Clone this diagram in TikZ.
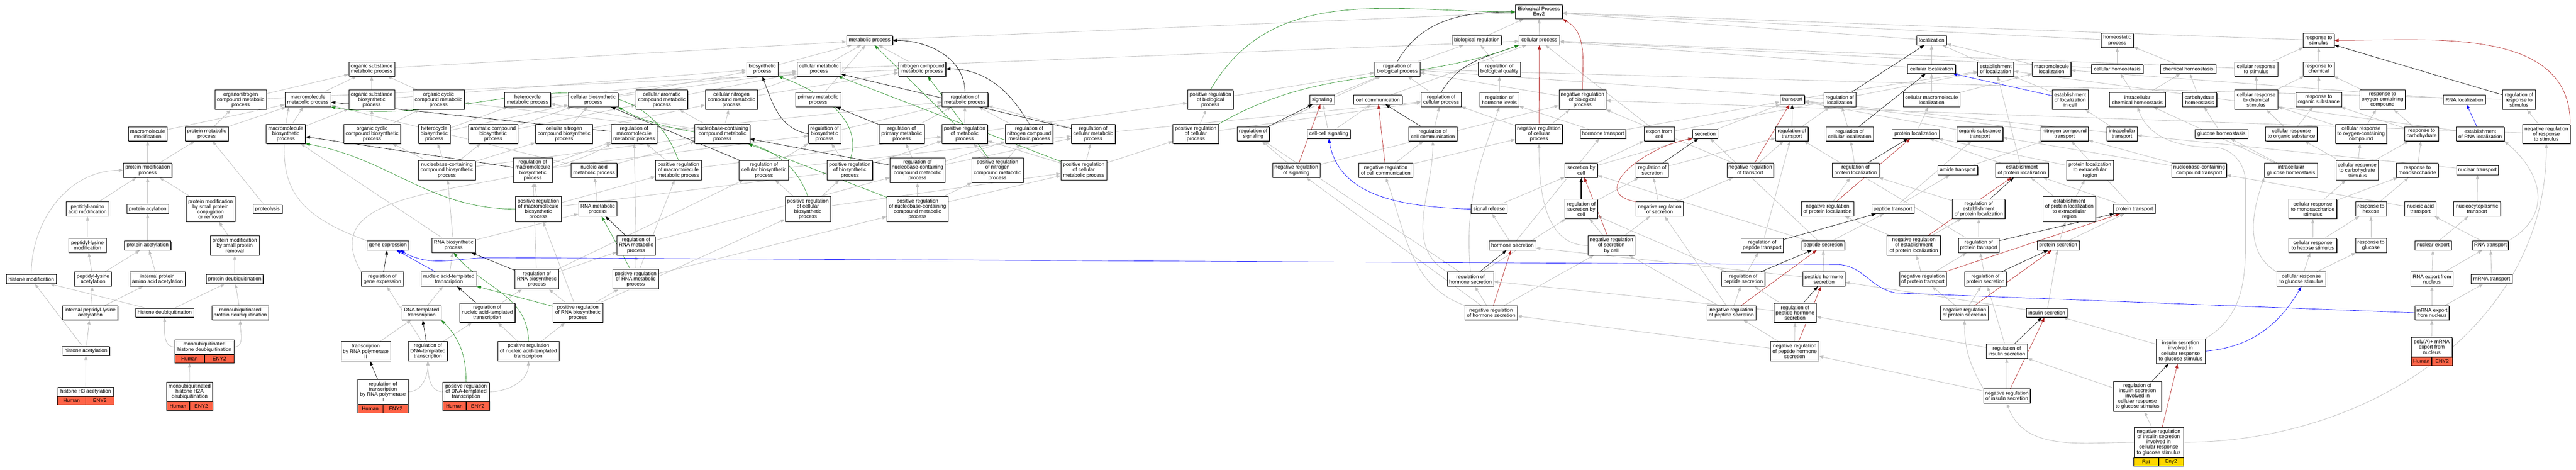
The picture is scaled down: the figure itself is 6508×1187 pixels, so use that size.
\documentclass[tikz,border=0pt]{standalone}
\usepackage{fontspec}
\setmainfont{Liberation Sans}
\usetikzlibrary{arrows.meta,shadows}
\pgfdeclarelayer{bglayer}
\pgfdeclarelayer{edgelayer}
\pgfsetlayers{bglayer,edgelayer,main}
\definecolor{eg}{RGB}{192,192,192}
\definecolor{egreen}{RGB}{34,139,34}
\definecolor{ered}{RGB}{178,34,34}
\definecolor{eblue}{RGB}{0,0,255}
\definecolor{hum}{RGB}{255,99,71}
\definecolor{ratc}{RGB}{255,215,0}
\newcommand\gofont{\fontsize{13}{13.2}\selectfont}
\tikzset{
 box/.style={draw=black,line width=0.9pt,fill=white,inner sep=0pt,align=center,font=\gofont,
   drop shadow={shadow xshift=1.3pt,shadow yshift=-1.3pt,fill=black!70,opacity=1}},
 cell/.style={draw=black,line width=0.9pt,inner sep=0pt,minimum height=21pt,font=\gofont,
   drop shadow={shadow xshift=1.3pt,shadow yshift=-1.3pt,fill=black!70,opacity=1}},
 isa/.style={draw=eg,line width=1.1pt,-{Triangle[length=11pt,width=8pt]}},
 reg/.style={draw=black,line width=0.9pt,-{Triangle[length=11pt,width=8pt]}},
 preg/.style={draw=egreen,line width=0.9pt,-{Triangle[length=11pt,width=8pt]}},
 nreg/.style={draw=ered,line width=0.9pt,-{Triangle[length=11pt,width=8pt]}},
 partof/.style={draw=eblue,line width=0.9pt,-{Triangle[length=11pt,width=8pt]}},
}
\newcommand\nd[6]{\node[box,minimum width=#4pt,minimum height=#5pt] (#1) at (#2,-#3) {#6};}
\newcommand\rnd[9]{%
 \node[box,minimum width=#4pt,minimum height=#5pt] (#1) at (#2,-#3) {#6};
 \node[cell,fill=#9,minimum width=#4pt/2,anchor=north east] (#1-a) at (#1.south) {#7};
 \node[cell,fill=#9,minimum width=#4pt/2,anchor=north west] (#1-b) at (#1.south) {#8};}
\begin{document}
\begin{tikzpicture}[x=1pt,y=1pt]
\useasboundingbox (0,0) rectangle (6508,-1187);
\begin{pgfonlayer}{bglayer}
\fill[white] (0,0) rectangle (6508,-1187);
\end{pgfonlayer}
% ---------------- nodes ----------------
\nd{mmod}{373}{338}{98}{36}{macromolecule\\modification}
\nd{pmet}{522}{338}{109}{36}{protein metabolic\\process}
\nd{pmp}{373}{430}{123}{36}{protein modification\\process}
\nd{paam}{221}{528}{108}{36}{peptidyl-amino\\acid modification}
\nd{pacyl}{373}{528}{106}{23}{protein acylation}
\nd{pmsp}{532}{528}{123}{63}{protein modification\\by small protein\\conjugation\\or removal}
\nd{plm}{221}{620}{94}{36}{peptidyl-lysine\\modification}
\nd{pacet}{373}{620}{117}{23}{protein acetylation}
\nd{pmspr}{593}{620}{124}{49}{protein modification\\by small protein\\removal}
\nd{hmod}{79}{705}{127}{23}{histone modification}
\nd{pla}{235}{705}{93}{36}{peptidyl-lysine\\acetylation}
\nd{ipaaa}{398}{705}{140}{36}{internal protein\\amino acid acetylation}
\nd{pdub}{593}{705}{143}{23}{protein deubiquitination}
\nd{ipla}{228}{790}{139}{36}{internal peptidyl-lysine\\acetylation}
\nd{hdub}{416}{790}{147}{23}{histone deubiquitination}
\nd{mpdub}{607}{790}{143}{36}{monoubiquitinated\\protein deubiquitination}
\nd{hacet}{217}{886}{120}{23}{histone acetylation}
\rnd{mhdub}{516.5}{876.5}{149}{37}{monoubiquitinated\\histone deubiquitination}{Human}{ENY2}{hum}
\rnd{h3ac}{216.5}{989}{141}{22}{histone H3 acetylation}{Human}{ENY2}{hum}
\rnd{h2a}{479}{989.5}{116}{49}{monoubiquitinated\\histone H2A\\deubiquitination}{Human}{ENY2}{hum}
\nd{osmp}{939}{174}{116}{36}{organic substance\\metabolic process}
\nd{oncmp}{608}{252}{130}{49}{organonitrogen\\compound metabolic\\process}
\nd{mmp}{778}{252}{116}{36}{macromolecule\\metabolic process}
\nd{osbp}{939}{252}{116}{49}{organic substance\\biosynthetic\\process}
\nd{occmp}{1108}{252}{131}{49}{organic cyclic\\compound metabolic\\process}
\nd{mbp}{722}{338}{99}{49}{macromolecule\\biosynthetic\\process}
\nd{occbp}{940}{338}{144}{49}{organic cyclic\\compound biosynthetic\\process}
\nd{hbp}{1097}{338}{80}{49}{heterocycle\\biosynthetic\\process}
\nd{ncbp}{1129}{430}{144}{49}{nucleobase-containing\\compound biosynthetic\\process}
\nd{prot}{676}{528}{74}{23}{proteolysis}
\nd{gexp}{980}{620}{105}{23}{gene expression}
\nd{rnabp}{1146}{620}{110}{36}{RNA biosynthetic\\process}
\nd{rgexp}{966}{705}{106}{36}{regulation of\\gene expression}
\nd{nat}{1134}{705}{140}{36}{nucleic acid-templated\\transcription}
\nd{dtt}{1065}{790}{99}{36}{DNA-templated\\transcription}
\nd{trpol}{924}{887}{125}{49}{transcription\\by RNA polymerase\\II}
\nd{rdtt}{1081}{887}{99}{49}{regulation of\\DNA-templated\\transcription}
\rnd{rtpol}{967.5}{989.5}{127}{63}{regulation of\\transcription\\by RNA polymerase\\II}{Human}{ENY2}{hum}
\nd{hmp}{1333}{252}{116}{36}{heterocycle\\metabolic process}
\nd{cbp}{1499}{252}{125}{36}{cellular biosynthetic\\process}
\nd{camp}{1672}{252}{130}{49}{cellular aromatic\\compound metabolic\\process}
\nd{acbp}{1246}{338}{124}{49}{aromatic compound\\biosynthetic\\process}
\nd{cncbp}{1425}{338}{144}{49}{cellular nitrogen\\compound biosynthetic\\process}
\nd{rmmp}{1602}{338}{116}{49}{regulation of\\macromolecule\\metabolic process}
\nd{rmbp}{1346}{430}{99}{62}{regulation of\\macromolecule\\biosynthetic\\process}
\nd{namp}{1501}{430}{116}{36}{nucleic acid\\metabolic process}
\nd{prmbp}{1360}{528}{116}{63}{positive regulation\\of macromolecule\\biosynthetic\\process}
\nd{rnamp}{1510}{528}{97}{36}{RNA metabolic\\process}
\nd{rrnamp}{1607}{620}{96}{49}{regulation of\\RNA metabolic\\process}
\nd{rrnabp}{1356}{705}{111}{49}{regulation of\\RNA biosynthetic\\process}
\nd{prrnamp}{1606}{705}{115}{49}{positive regulation\\of RNA metabolic\\process}
\nd{rnat}{1231}{790}{140}{49}{regulation of\\nucleic acid-templated\\transcription}
\nd{prrnabp}{1460}{790}{126}{49}{positive regulation\\of RNA biosynthetic\\process}
\nd{prnat}{1335}{887}{155}{49}{positive regulation\\of nucleic acid-templated\\transcription}
\rnd{prdtt}{1177.5}{989.5}{117}{49}{positive regulation\\of DNA-templated\\transcription}{Human}{ENY2}{hum}
\nd{mp}{2197}{102}{116}{23}{metabolic process}
\nd{bp}{1926}{174}{80}{36}{biosynthetic\\process}
\nd{cmp}{2069}{174}{111}{36}{cellular metabolic\\process}
\nd{cncmp}{1848}{252}{132}{49}{cellular nitrogen\\compound metabolic\\process}
\nd{prim}{2067}{252}{114}{36}{primary metabolic\\process}
\nd{ncmp}{1825}{338}{139}{49}{nucleobase-containing\\compound metabolic\\process}
\nd{rbp}{2083}{338}{82}{49}{regulation of\\biosynthetic\\process}
\nd{prmmp}{1714}{430}{116}{49}{positive regulation\\of macromolecule\\metabolic process}
\nd{rcbp}{1930}{430}{125}{49}{regulation of\\cellular biosynthetic\\process}
\nd{prbp}{2147}{430}{115}{49}{positive regulation\\of biosynthetic\\process}
\nd{prcbp}{2041}{528}{115}{63}{positive regulation\\of cellular\\biosynthetic\\process}
\nd{nitmp}{2330}{174}{119}{36}{nitrogen compound\\metabolic process}
\nd{rmp}{2438}{252}{116}{36}{regulation of\\metabolic process}
\nd{rpmp}{2278}{338}{114}{49}{regulation of\\primary metabolic\\process}
\nd{prmp}{2437}{338}{115}{49}{positive regulation\\of metabolic\\process}
\nd{rnitmp}{2600}{338}{120}{49}{regulation of\\nitrogen compound\\metabolic process}
\nd{rcmp}{2762}{338}{111}{49}{regulation of\\cellular metabolic\\process}
\nd{rncmp}{2318}{430}{139}{62}{regulation of\\nucleobase-containing\\compound metabolic\\process}
\nd{prnitmp}{2520}{430}{130}{62}{positive regulation\\of nitrogen\\compound metabolic\\process}
\nd{prcmp}{2738}{430}{116}{49}{positive regulation\\of cellular\\metabolic process}
\nd{prncmp}{2318}{528}{155}{63}{positive regulation\\of nucleobase-containing\\compound metabolic\\process}
\nd{prbiop}{3058}{252}{115}{49}{positive regulation\\of biological\\process}
\nd{prcp}{3021}{338}{115}{49}{positive regulation\\of cellular\\process}
\nd{rsig}{3166}{338}{81}{36}{regulation of\\signaling}
\nd{nrsig}{3275}{430}{119}{36}{negative regulation\\of signaling}
\nd{breg}{3731}{102}{125}{23}{biological regulation}
\nd{rbiop}{3530}{174}{115}{36}{regulation of\\biological process}
\nd{rbq}{3788}{174}{106}{36}{regulation of\\biological quality}
\nd{sig}{3340}{252}{62}{23}{signaling}
\nd{ccom}{3481}{252}{123}{23}{cell communication}
\nd{rcp}{3641}{252}{101}{36}{regulation of\\cellular process}
\nd{rhl}{3788}{252}{99}{36}{regulation of\\hormone levels}
\nd{ccsig}{3357}{338}{110}{23}{cell-cell signaling}
\nd{rccom}{3620}{338}{123}{36}{regulation of\\cell communication}
\nd{nrccom}{3501}{430}{137}{36}{negative regulation\\of cell communication}
\nd{sigrel}{3762}{528}{91}{23}{signal release}
\nd{hsec}{3821}{620}{118}{23}{hormone secretion}
\nd{rhsec}{3715}{705}{117}{36}{regulation of\\hormone secretion}
\nd{nrhsec}{3767}{790}{132}{36}{negative regulation\\of hormone secretion}
\nd{root}{3888}{30}{119}{35}{Biological Process\\Eny2}
\nd{cp}{3889}{102}{102}{23}{cellular process}
\nd{nrbiop}{3998}{252}{119}{49}{negative regulation\\of biological\\process}
\nd{nrcp}{3888}{338}{119}{49}{negative regulation\\of cellular\\process}
\nd{htr}{4050}{338}{115}{23}{hormone transport}
\nd{efc}{4192}{338}{77}{36}{export from\\cell}
\nd{sec}{4308}{338}{63}{23}{secretion}
\nd{sbc}{3995}{430}{82}{36}{secretion by\\cell}
\nd{rsec}{4174}{430}{82}{36}{regulation of\\secretion}
\nd{rsbc}{3995}{528}{82}{49}{regulation of\\secretion by\\cell}
\nd{nrsec}{4193}{528}{119}{36}{negative regulation\\of secretion}
\nd{nrsbc}{4071}{620}{119}{49}{negative regulation\\of secretion\\by cell}
\nd{loc}{4880}{102}{75}{23}{localization}
\nd{cloc}{4880}{174}{121}{23}{cellular localization}
\nd{trans}{4528}{252}{62}{23}{transport}
\nd{rloc}{4648}{252}{81}{36}{regulation of\\localization}
\nd{cmloc}{4880}{252}{143}{36}{cellular macromolecule\\localization}
\nd{rtrans}{4527}{338}{82}{36}{regulation of\\transport}
\nd{rcloc}{4673}{338}{120}{36}{regulation of\\cellular localization}
\nd{ploc}{4840}{338}{119}{23}{protein localization}
\nd{nrtrans}{4422}{430}{118}{36}{negative regulation\\of transport}
\nd{rploc}{4688}{430}{119}{36}{regulation of\\protein localization}
\nd{nrploc}{4617}{528}{133}{36}{negative regulation\\of protein localization}
\nd{ptr}{4782}{528}{107}{23}{peptide transport}
\nd{rptr}{4452}{620}{106}{36}{regulation of\\peptide transport}
\nd{psec}{4606}{620}{109}{23}{peptide secretion}
\nd{nrepl}{4835}{620}{135}{49}{negative regulation\\of establishment\\of protein localization}
\nd{rpsec}{4404}{705}{110}{36}{regulation of\\peptide secretion}
\nd{phsec}{4608}{705}{106}{36}{peptide hormone\\secretion}
\nd{nrptr}{4858}{705}{118}{36}{negative regulation\\of protein transport}
\nd{nrpsec}{4374}{790}{124}{36}{negative regulation\\of peptide secretion}
\nd{rphsec}{4535}{790}{107}{49}{regulation of\\peptide hormone\\secretion}
\nd{nrphsec}{4534}{887}{122}{49}{negative regulation\\of peptide hormone\\secretion}
\nd{homeo}{5349}{102}{81}{36}{homeostatic\\process}
\nd{eloc}{5042}{174}{91}{36}{establishment\\of localization}
\nd{mloc}{5183}{174}{98}{36}{macromolecule\\localization}
\nd{chomeo}{5349}{174}{130}{23}{cellular homeostasis}
\nd{elic}{5230}{252}{91}{49}{establishment\\of localization\\in cell}
\nd{ichomeo}{5400}{252}{141}{36}{intracellular\\chemical homeostasis}
\nd{ostr}{5002}{338}{116}{36}{organic substance\\transport}
\nd{nctr}{5216}{338}{120}{36}{nitrogen compound\\transport}
\nd{itr}{5361}{338}{76}{36}{intracellular\\transport}
\nd{amtr}{4946}{430}{101}{23}{amide transport}
\nd{eploc}{5108}{430}{134}{36}{establishment\\of protein localization}
\nd{plocex}{5280}{430}{119}{49}{protein localization\\to extracellular\\region}
\nd{reploc}{4999}{528}{133}{49}{regulation of\\establishment\\of protein localization}
\nd{eplocex}{5228}{528}{133}{63}{establishment\\of protein localization\\to extracellular\\region}
\nd{ptrans}{5392}{528}{105}{23}{protein transport}
\nd{rptrans}{4999}{620}{103}{36}{regulation of\\protein transport}
\nd{prsec}{5200}{620}{106}{23}{protein secretion}
\nd{rprsec}{5016}{705}{106}{36}{regulation of\\protein secretion}
\nd{nrprsec}{4963}{790}{121}{36}{negative regulation\\of protein secretion}
\nd{insec}{5171}{790}{103}{23}{insulin secretion}
\nd{rinsec}{5070}{887}{104}{36}{regulation of\\insulin secretion}
\nd{nrinsec}{5070}{1000}{118}{36}{negative regulation\\of insulin secretion}
\nd{rinsecg}{5400}{1001}{122}{76}{regulation of\\insulin secretion\\involved in\\cellular response\\to glucose stimulus}
\rnd{nrinsecg}{5453.5}{1117}{125}{76}{negative regulation\\of insulin secretion\\involved in\\cellular response\\to glucose stimulus}{Rat}{Eny2}{ratc}
\nd{rstim}{5858}{102}{78}{36}{response to\\stimulus}
\nd{chemh}{5528}{174}{141}{23}{chemical homeostasis}
\nd{crstim}{5700}{174}{109}{36}{cellular response\\to stimulus}
\nd{rchem}{5858}{174}{78}{36}{response to\\chemical}
\nd{carbh}{5557}{252}{87}{36}{carbohydrate\\homeostasis}
\nd{crchem}{5700}{252}{109}{49}{cellular response\\to chemical\\stimulus}
\nd{ros}{5858}{252}{116}{36}{response to\\organic substance}
\nd{glch}{5612}{338}{134}{23}{glucose homeostasis}
\nd{cros}{5789}{338}{130}{36}{cellular response\\to organic substance}
\nd{croc}{5965}{338}{130}{49}{cellular response\\to oxygen-containing\\compound}
\nd{nctrans}{5556}{430}{138}{36}{nucleobase-containing\\compound transport}
\nd{iglch}{5788}{430}{134}{36}{intracellular\\glucose homeostasis}
\nd{crcarb}{5955}{430}{107}{49}{cellular response\\to carbohydrate\\stimulus}
\nd{crmono}{5843}{528}{121}{49}{cellular response\\to monosaccharide\\stimulus}
\nd{rhex}{5990}{528}{78}{36}{response to\\hexose}
\nd{crhex}{5843}{620}{121}{36}{cellular response\\to hexose stimulus}
\nd{rglu}{5990}{620}{78}{36}{response to\\glucose}
\nd{crglu}{5814}{705}{123}{36}{cellular response\\to glucose stimulus}
\nd{insg}{5509}{887}{124}{63}{insulin secretion\\involved in\\cellular response\\to glucose stimulus}
\nd{roc}{6019}{252}{115}{49}{response to\\oxygen-containing\\compound}
\nd{rnaloc}{6226}{252}{106}{23}{RNA localization}
\nd{rrstim}{6364}{252}{83}{49}{regulation of\\response to\\stimulus}
\nd{rcarb}{6118}{338}{85}{36}{response to\\carbohydrate}
\nd{erloc}{6266}{338}{121}{36}{establishment\\of RNA localization}
\nd{nrrstim}{6433}{338}{120}{49}{negative regulation\\of response\\to stimulus}
\nd{rmono}{6107}{430}{106}{36}{response to\\monosaccharide}
\nd{ntr}{6259}{430}{106}{23}{nuclear transport}
\nd{natr}{6115}{528}{79}{36}{nucleic acid\\transport}
\nd{nctp}{6258}{528}{119}{36}{nucleocytoplasmic\\transport}
\nd{nexp}{6147}{620}{92}{23}{nuclear export}
\nd{rnatr}{6292}{620}{90}{23}{RNA transport}
\nd{rnaexp}{6144}{705}{106}{36}{RNA export from\\nucleus}
\nd{mrnatr}{6295}{705}{104}{23}{mRNA transport}
\nd{mrnaexp}{6144}{790}{87}{36}{mRNA export\\from nucleus}
\rnd{polya}{6143.5}{876.5}{103}{49}{poly(A)+ mRNA\\export from\\nucleus}{Human}{ENY2}{hum}
% waypoints
\coordinate (bw1) at (4790,-740);
\coordinate (bw2) at (4640,-668);
\coordinate (bw3) at (1240,-651);
\coordinate (iw1) at (5673,-620);
\coordinate (iw2) at (5673,-460);
\coordinate (iw3) at (5590,-372);
% ---------------- edges ----------------
\begin{pgfonlayer}{edgelayer}
\foreach \a/\b in {pmp/mmod, pmp/pmet, mmod/mmp, pmet/oncmp, pmet/mmp, prot/pmet,
 paam/pmp, pacyl/pmp, pmsp/pmp, plm/paam, pacet/pacyl, pmspr/pmsp,
 pla/plm, pla/pacet, ipaaa/pacet, pdub/pmspr, ipla/pla, ipla/ipaaa, hdub/hmod, hdub/pdub, mpdub/pdub,
 hacet/hmod, hacet/ipla, h3ac/hacet, h2a/mhdub-a,
 oncmp/osmp, oncmp/nitmp, mmp/osmp, osbp/osmp, osbp/bp, occmp/osmp,
 mbp/mmp, mbp/osbp, occbp/osbp, occbp/occmp, hbp/hmp, hbp/cbp,
 ncbp/hbp, ncbp/acbp, ncbp/cncbp, ncbp/occbp, ncbp/ncmp, acbp/camp, acbp/cbp, cncbp/cbp, cncbp/cncmp,
 dtt/nat, trpol/dtt, rdtt/rnat, rdtt/rgexp,
 hmp/cmp, cbp/cmp, cbp/bp, camp/cmp, cncmp/cmp, cncmp/nitmp,
 ncmp/hmp, ncmp/camp, ncmp/occmp, ncmp/cncmp,
 rmbp/rmmp, rmbp/rbp, prmbp/rmbp, prmbp/prmmp, prmbp/prbp,
 namp/ncmp, namp/mmp, rnamp/namp, rrnamp/rmmp, rrnamp/rncmp,
 rnabp/rnamp, rnabp/ncbp, rnabp/mbp, nat/rnabp,
 rrnabp/rrnamp, rrnabp/rmbp, rrnabp/rcbp, prrnamp/rrnamp, prrnamp/prmmp, prrnamp/prncmp,
 rnat/rrnabp, prrnabp/rrnabp, prrnabp/prrnamp, prrnabp/prmbp, prrnabp/prcbp, prnat/rnat, prnat/prrnabp,
 rmmp/rmp, rbp/rmp, rcbp/rbp, rcbp/rcmp, prmmp/rmmp, prmmp/prmp,
 prbp/rbp, prbp/prmp, prcbp/rcbp, prcbp/prbp, prcbp/prcmp,
 prim/mp, bp/mp, cmp/mp, cmp/cp, nitmp/mp, osmp/mp, mp/root,
 rpmp/rmp, prmp/rmp, prmp/prbiop, rnitmp/rmp, rcmp/rmp, rcmp/rcp,
 rncmp/rpmp, rncmp/rnitmp, rncmp/rcmp, prnitmp/prmp, prnitmp/rnitmp, prcmp/prmp, prcmp/rcmp, prcmp/prcp,
 prncmp/rncmp, prncmp/prnitmp, prncmp/prcmp,
 prbiop/rbiop, prcp/prbiop, prcp/rcp, rsig/rbiop, nrsig/rsig, nrsig/nrbiop,
 sig/rbiop, ccom/cp, rcp/rbiop, rhl/rbq, rbq/breg, rbiop/breg, breg/root, cp/root,
 ccsig/sig, ccsig/ccom, rccom/rcp, nrccom/rccom, nrccom/nrcp,
 sigrel/sbc, hsec/sigrel, hsec/htr, rhsec/rsig, rhsec/rsbc,
 nrhsec/rhsec, nrhsec/nrsig, nrhsec/nrsbc, nrbiop/rbiop, nrcp/nrbiop, nrcp/rcp,
 htr/rhl, htr/trans, efc/cp, efc/eloc, sec/trans, sbc/efc, sbc/sec,
 rsec/rtrans, rsbc/rsec, nrsec/rsec, nrsec/nrtrans, nrsbc/rsbc, nrsbc/nrsec,
 loc/root, cloc/loc, cloc/cp, trans/eloc, rloc/rbiop, cmloc/cloc, cmloc/mloc,
 rtrans/rloc, rcloc/rloc, ploc/cmloc, nrtrans/rtrans, nrtrans/nrbiop, rploc/rcloc, nrploc/rploc,
 ptr/amtr, ptr/ostr, rptr/rtrans, psec/ptr, psec/sbc, psec/sec,
 nrepl/reploc, nrepl/nrploc, rpsec/rptr, rpsec/rsbc, phsec/psec, phsec/hsec,
 nrptr/rptrans, nrptr/nrepl, nrpsec/rpsec, nrpsec/nrsec, nrpsec/nrsbc,
 rphsec/rpsec, rphsec/rhsec, nrphsec/rphsec, nrphsec/nrpsec, nrphsec/nrhsec,
 homeo/root, eloc/loc, mloc/loc, chomeo/homeo, chomeo/cp, elic/eloc,
 ichomeo/chomeo, ichomeo/chemh, ostr/trans, nctr/trans, itr/elic, itr/trans,
 amtr/nctr, eploc/eloc, eploc/ploc, plocex/ploc, reploc/rploc,
 eplocex/eploc, eplocex/plocex, ptrans/eploc, ptrans/nctr,
 rptrans/reploc, rptrans/rtrans, prsec/ptrans, prsec/eplocex,
 rprsec/rptrans, nrprsec/rprsec, nrprsec/nrptr,
 insec/prsec, insec/phsec, rinsec/rprsec, rinsec/rphsec, nrinsec/rinsec, nrinsec/nrphsec,
 rinsecg/rinsec, nrinsecg/rinsecg, insg/insec,
 rstim/root, chemh/homeo, crstim/rstim, crstim/cp, rchem/rstim, carbh/chemh,
 crchem/crstim, crchem/rchem, ros/rchem, glch/carbh, cros/crchem, cros/ros,
 roc/rchem, croc/crchem, croc/roc, rcarb/roc, rcarb/ros,
 crcarb/cros, crcarb/rcarb, crcarb/croc, rmono/rcarb, crmono/crcarb, crmono/rmono,
 rhex/rmono, crhex/crmono, crhex/rhex, rglu/rhex, crglu/crhex, crglu/rglu,
 iglch/glch, iglch/ichomeo, nctrans/nctr, nctrans/ostr, natr/nctrans, ntr/itr, nctp/ntr, nexp/nctp,
 rnatr/natr, rnaexp/nexp, rnaexp/rnatr, mrnatr/rnatr, mrnaexp/rnaexp, mrnaexp/mrnatr, polya/mrnaexp,
 rnaloc/mloc, erloc/eloc, rrstim/rbiop, nrrstim/rrstim, nrrstim/nrbiop}
 \draw[isa] (\a) -- (\b);
% curved is_a
\draw[isa] (hmod.north) to[out=90,in=180] (pmp.west);
\draw[isa] (mhdub.west) to[out=180,in=-90] (hdub.south);
\draw[isa] (mhdub.east) to[out=0,in=-90] (mpdub.south);
\draw[isa] (rtpol.east) to[out=0,in=-90] (rdtt.south);
\draw[isa] (prdtt.west) to[out=180,in=-90] (rdtt.south);
\draw[isa] (prdtt.east) to[out=0,in=-90] (prnat.south);
\draw[isa] (gexp.north west) to[out=160,in=-100,looseness=1.3] ([xshift=10pt]mmp.south west);
\draw[isa] (rgexp.north west) to[out=120,in=-150] (rmmp.south west);
\draw[isa] (rhsec.north) to[out=95,in=-110] (rhl.south);
\draw[isa] (rhsec.north west) to[out=150,in=-90] (rccom.south);
\draw[isa] (nrhsec.north west) to[out=160,in=-70] (nrccom.south);
\draw[isa] (nrsbc.west) to[out=180,in=-90] (nrcp.south);
\draw[isa] (rnatr.north east) to[out=30,in=-40,looseness=1.3] (erloc.south east);
\draw[isa] (crglu.north west) to[out=150,in=-110] (iglch.south west);
\draw[isa] (nrinsecg.east) to[out=0,in=-90] (nrrstim.south);
\draw[isa] (nrinsecg.west) to[out=180,in=-70] (nrinsec.south);
\draw[isa] (nrinsec.north west) to[out=120,in=-90] (nrprsec.south);
\draw[isa] (insg.north east) to[out=30,in=-90] (iw1) -- (iw2) to[out=90,in=0] (iw3) to[out=180,in=-70] (ichomeo.south);
% regulates
\foreach \a/\b in {rgexp/gexp, rdtt/dtt, rtpol/trpol, rmbp/mbp, rrnamp/rnamp, rrnabp/rnabp, rnat/nat,
 rmmp/mmp, rcbp/cbp, rpmp/prim, rcmp/cmp, rncmp/ncmp,
 rsig/sig, rccom/ccom, rhsec/hsec, rsec/sec,
 rloc/loc, rtrans/trans, rcloc/cloc, rploc/ploc, rptr/ptr, reploc/eploc, rpsec/psec,
 rptrans/ptrans, rprsec/prsec, rphsec/phsec, rinsec/insec, rinsecg/insg, rrstim/rstim}
 \draw[reg] (\a) -- (\b);
\draw[reg,line width=2.2pt] (rsbc) -- (sbc);
\draw[reg] (rbp.west) to[out=170,in=-70] (bp.south);
\draw[reg] (rmp.north) to[out=90,in=0] (mp.east);
\draw[reg] (rnitmp.north) to[out=120,in=0] (nitmp.east);
\draw[reg] (rbiop.north) to[out=60,in=180] (root.west);
\draw[reg] (rcp.north) to[out=60,in=-160] (cp.south west);
% positively regulates
\foreach \a/\b in {prrnamp/rnamp, prrnabp/nat, prmp/mp, prnitmp/nitmp, prcmp/cmp, prncmp/ncmp}
 \draw[preg] (\a) -- (\b);
\draw[preg] (prdtt.north) to[out=90,in=-45] (dtt.south east);
\draw[preg] (prnat.north) to[out=90,in=-50] (rnabp.south);
\draw[preg] (prcbp.north) to[out=110,in=-30] (cbp.south east);
\draw[preg] (prbp.north) to[out=70,in=-20] (bp.south east);
\draw[preg] (prmmp.north) to[out=110,in=-10] (mmp.south east);
\draw[preg] (prmbp.west) to[out=180,in=-10] (mbp.south east);
\draw[preg] (prbiop.north) to[out=60,in=180] (root.west);
\draw[preg] (prcp.north east) to[out=30,in=-160] (cp.south west);
% negatively regulates
\foreach \a/\b in {nrsig/sig, nrccom/ccom, nrhsec/hsec, nrcp/cp, nrsbc/sbc,
 nrtrans/trans, nrploc/ploc, nrepl/eploc, nrpsec/psec, nrptr/ptrans, nrprsec/prsec,
 nrphsec/phsec, nrinsec/insec, nrinsecg/insg}
 \draw[nreg] (\a) -- (\b);
\draw[nreg] (nrbiop.north) to[out=90,in=-30] (root.south east);
\draw[nreg] (nrrstim.north east) to[out=90,in=0] (rstim.east);
\draw[nreg] (nrsec.north west) to[out=170,in=-170,looseness=1.5] (sec.south west);
% part of
\draw[partof] (nat) -- (gexp);
\draw[partof] (elic) -- (cloc);
\draw[partof] (erloc) -- (rnaloc);
\draw[partof] (sigrel.west) to[out=178,in=-80] (ccsig.south);
\draw[partof] (insg.east) to[out=5,in=-120] (crglu.south);
\draw[partof] (mrnaexp.west) -- (bw1) to[out=170,in=0] (bw2) -- (bw3) to[out=180,in=-30] ([xshift=-22pt]gexp.south east);
\end{pgfonlayer}
\end{tikzpicture}
\end{document}
